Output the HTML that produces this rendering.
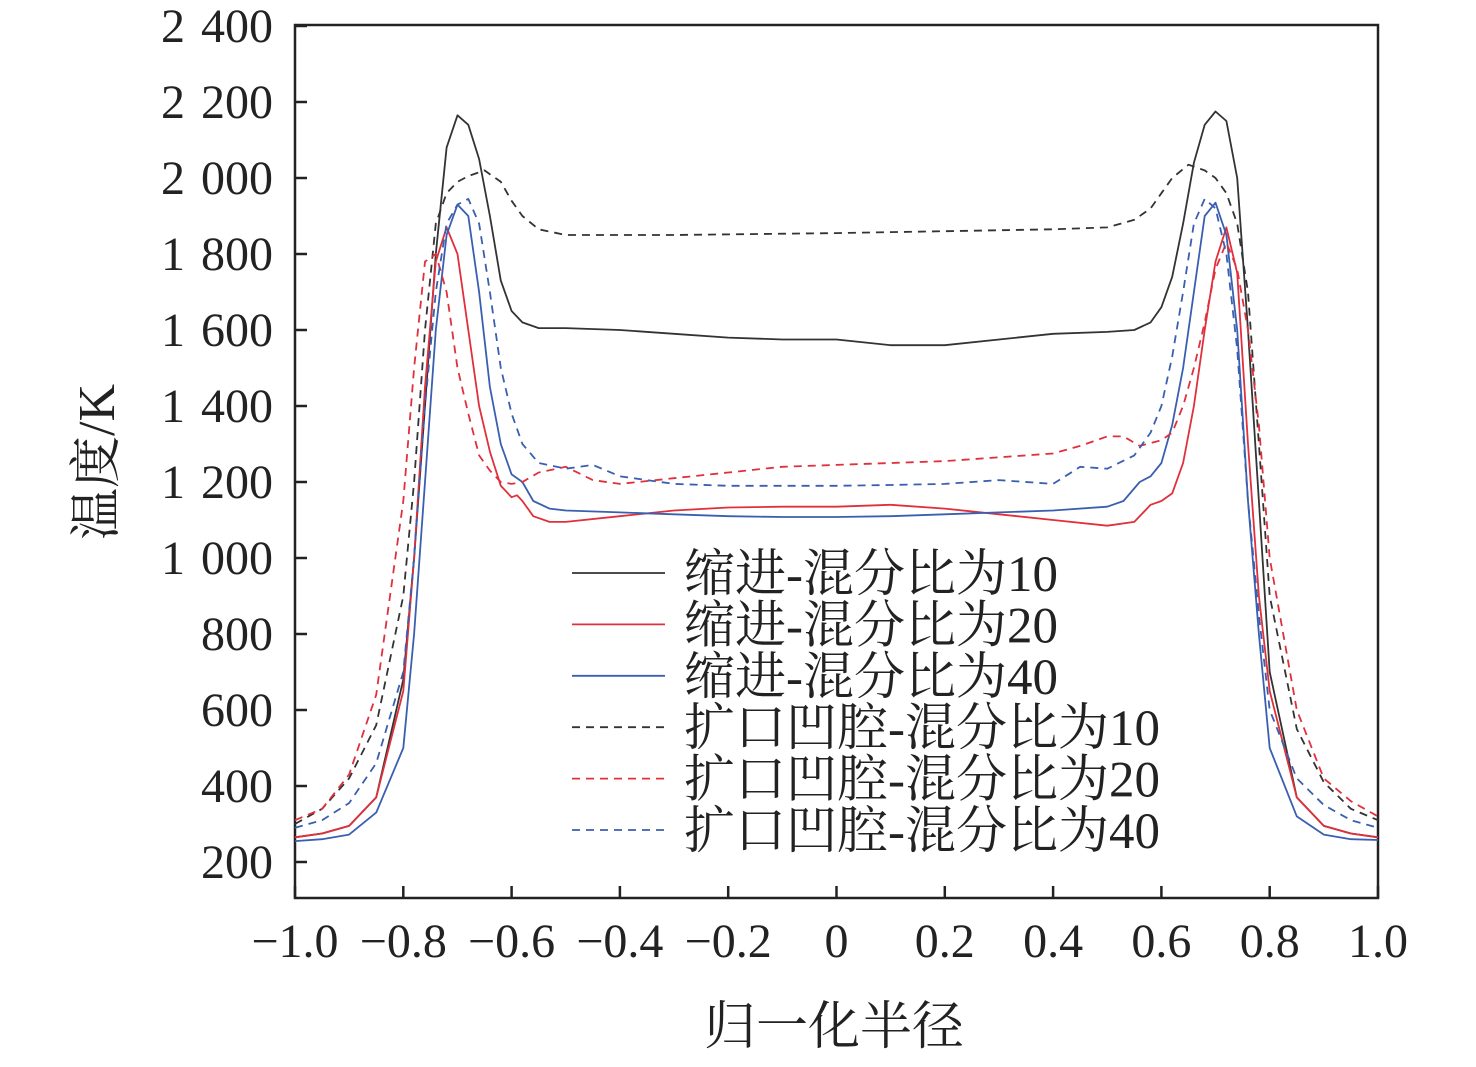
<!DOCTYPE html>
<html><head><meta charset="utf-8"><style>
body{margin:0;background:#fff}
svg text{font-family:"Liberation Serif","Noto Serif CJK SC",serif;fill:#222}
</style></head><body>
<svg id="chart" width="1476" height="1062" viewBox="0 0 1476 1062" xmlns="http://www.w3.org/2000/svg">
<g id="axes"></g>
<g id="series"></g>
<g id="legend"></g>
<text transform="translate(114,462) rotate(-90)" text-anchor="middle" font-size="52">温度/K</text>
<text x="834" y="1044" text-anchor="middle" font-size="52">归一化半径</text>
</svg>
<script>
const xTicks=[-1,-0.8,-0.6,-0.4,-0.2,0,0.2,0.4,0.6,0.8,1];
const xTickLabels=["\u22121.0","\u22120.8","\u22120.6","\u22120.4","\u22120.2","0","0.2","0.4","0.6","0.8","1.0"];
const yTicks=[200,400,600,800,1000,1200,1400,1600,1800,2000,2200,2400];
const yTickLabels=["200","400","600","800","1 000","1 200","1 400","1 600","1 800","2 000","2 200","2 400"];
const seriesNames=["缩进-混分比为10","缩进-混分比为20","缩进-混分比为40","扩口凹腔-混分比为10","扩口凹腔-混分比为20","扩口凹腔-混分比为40"];
const s10x=[-1,-0.95,-0.9,-0.85,-0.8,-0.78,-0.76,-0.74,-0.72,-0.7,-0.68,-0.66,-0.64,-0.62,-0.6,-0.58,-0.55,-0.5,-0.4,-0.3,-0.2,-0.1,0,0.1,0.2,0.3,0.4,0.5,0.55,0.58,0.6,0.62,0.64,0.66,0.68,0.7,0.72,0.74,0.76,0.78,0.8,0.85,0.9,0.95,1];
const s10y=[265,275,295,370,680,1000,1400,1800,2080,2165,2140,2050,1900,1730,1650,1620,1605,1605,1600,1590,1580,1575,1575,1560,1560,1575,1590,1595,1600,1620,1660,1740,1880,2040,2140,2175,2150,2000,1600,1150,700,370,295,275,265];
const s20x=[-1,-0.95,-0.9,-0.85,-0.8,-0.78,-0.76,-0.74,-0.72,-0.7,-0.68,-0.66,-0.64,-0.62,-0.6,-0.59,-0.58,-0.56,-0.53,-0.5,-0.4,-0.3,-0.2,-0.1,0,0.1,0.2,0.3,0.4,0.5,0.55,0.58,0.6,0.62,0.64,0.66,0.68,0.7,0.72,0.74,0.76,0.78,0.8,0.85,0.9,0.95,1];
const s20y=[265,275,295,370,650,1000,1450,1780,1870,1800,1600,1400,1280,1190,1160,1165,1150,1110,1095,1095,1110,1125,1133,1135,1135,1140,1130,1115,1100,1085,1095,1140,1150,1170,1250,1400,1600,1780,1870,1750,1300,900,650,370,295,275,265];
const s40x=[-1,-0.95,-0.9,-0.85,-0.8,-0.78,-0.76,-0.74,-0.72,-0.7,-0.68,-0.66,-0.64,-0.62,-0.6,-0.58,-0.56,-0.53,-0.5,-0.4,-0.3,-0.2,-0.1,0,0.1,0.2,0.3,0.4,0.5,0.53,0.56,0.58,0.6,0.62,0.64,0.66,0.68,0.7,0.72,0.74,0.76,0.78,0.8,0.85,0.9,0.95,1];
const s40y=[255,260,272,330,500,800,1200,1600,1850,1930,1900,1700,1450,1300,1220,1200,1150,1130,1125,1120,1115,1110,1108,1108,1110,1115,1120,1125,1135,1150,1200,1215,1250,1350,1500,1700,1900,1935,1850,1600,1150,800,500,320,272,260,258];
const d10x=[-1,-0.95,-0.9,-0.85,-0.8,-0.78,-0.76,-0.74,-0.72,-0.7,-0.68,-0.65,-0.62,-0.6,-0.58,-0.55,-0.5,-0.3,0,0.2,0.4,0.5,0.55,0.58,0.6,0.62,0.65,0.68,0.7,0.72,0.74,0.76,0.78,0.8,0.85,0.9,0.95,1];
const d10y=[300,340,420,560,900,1200,1600,1880,1960,1990,2005,2020,1990,1940,1900,1865,1850,1850,1855,1860,1865,1870,1890,1920,1960,2000,2035,2020,2000,1960,1880,1700,1300,900,550,410,340,310];
const d20x=[-1,-0.95,-0.9,-0.85,-0.8,-0.78,-0.76,-0.74,-0.72,-0.7,-0.68,-0.66,-0.64,-0.62,-0.6,-0.58,-0.55,-0.5,-0.45,-0.4,-0.3,-0.2,-0.1,0,0.1,0.2,0.3,0.4,0.45,0.5,0.53,0.56,0.6,0.62,0.64,0.66,0.68,0.7,0.72,0.74,0.76,0.78,0.8,0.85,0.9,0.95,1];
const d20y=[310,340,430,640,1150,1500,1780,1800,1700,1500,1380,1270,1230,1200,1195,1200,1225,1240,1205,1195,1210,1225,1240,1245,1250,1255,1265,1275,1295,1320,1320,1295,1310,1330,1400,1500,1620,1760,1830,1760,1600,1350,1000,600,420,360,320];
const d40x=[-1,-0.95,-0.9,-0.85,-0.8,-0.78,-0.76,-0.74,-0.72,-0.7,-0.68,-0.66,-0.64,-0.62,-0.6,-0.58,-0.55,-0.5,-0.45,-0.4,-0.3,-0.2,-0.1,0,0.1,0.2,0.3,0.4,0.45,0.5,0.55,0.58,0.6,0.62,0.64,0.66,0.68,0.7,0.72,0.74,0.76,0.78,0.8,0.85,0.9,0.95,1];
const d40y=[290,310,355,460,700,1000,1400,1700,1880,1930,1945,1880,1700,1500,1380,1300,1250,1235,1245,1215,1195,1190,1190,1190,1192,1195,1205,1195,1240,1235,1270,1330,1400,1530,1700,1880,1945,1920,1800,1550,1150,850,600,420,350,310,290];

const NS="http://www.w3.org/2000/svg";
const L=295,R=1378,T=25,B=898;
const X=v=>L+(v+1)/2*(R-L);
const Y=v=>862-(v-200)/200*76;
function mk(tag,attrs,parent){const e=document.createElementNS(NS,tag);for(const k in attrs)e.setAttribute(k,attrs[k]);parent.appendChild(e);return e;}
const axes=document.getElementById('axes');
const frame=mk('rect',{x:L,y:T,width:R-L,height:B-T,fill:'none',stroke:'#222','stroke-width':2.5},axes);


xTicks.forEach((v,i)=>{
  const t=mk('line',{x1:X(v),x2:X(v),y1:B,y2:B-12,stroke:'#222','stroke-width':2.5},axes);
  
  
  const tx=mk('text',{x:X(v),y:957,'text-anchor':'middle','font-size':48},axes);
  tx.textContent=xTickLabels[i];
  
  
});
yTicks.forEach((v,i)=>{
  const t=mk('line',{x1:L,x2:L+12,y1:Y(v),y2:Y(v),stroke:'#222','stroke-width':2.5},axes);
  
  
  const tx=mk('text',{x:273,y:Y(v)+16,'text-anchor':'end','font-size':48,'word-spacing':4},axes);
  tx.textContent=yTickLabels[i];
  
  
});
const colors=['#333','#e0303c','#3a5fb0','#333','#e0303c','#3a5fb0'];
const dashes=['','','','8,6','8,6','8,6'];
const xs=[s10x,s20x,s40x,d10x,d20x,d40x];
const ys=[s10y,s20y,s40y,d10y,d20y,d40y];
const keys=['s10','s20','s40','d10','d20','d40'];
const sg=document.getElementById('series');
xs.forEach((xa,i)=>{
  const d=xa.map((v,j)=>(j?'L':'M')+X(v).toFixed(1)+','+Y(ys[i][j]).toFixed(1)).join(' ');
  const p=mk('path',{d:d,fill:'none',stroke:colors[i],'stroke-width':1.8,'stroke-dasharray':dashes[i],'stroke-linejoin':'round'},sg);
  
  
});
const lg=document.getElementById('legend');
seriesNames.forEach((n,i)=>{
  const yy=573+i*51.4;
  const l=mk('line',{x1:572,x2:665,y1:yy,y2:yy,stroke:colors[i],'stroke-width':1.8,'stroke-dasharray':dashes[i]},lg);
  
  
  const t=mk('text',{x:684,y:yy+18,'font-size':51},lg);
  t.textContent=n;
  
  
});
</script>
</body></html>
